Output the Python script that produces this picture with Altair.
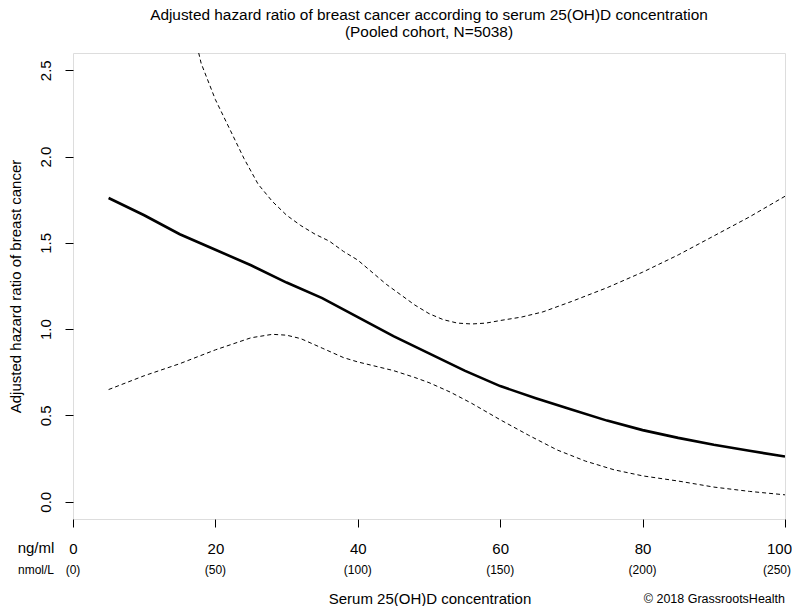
import altair as alt
import pandas as pd

# ---- data ----
est_x = [5, 10, 15, 20, 25, 30, 35, 40, 45, 50, 55, 60, 65, 70, 75, 80, 85, 90, 95, 100]
est_y = [1.76, 1.66, 1.55, 1.46, 1.37, 1.27, 1.18, 1.07, 0.96, 0.86, 0.76, 0.67, 0.60, 0.535,
         0.47, 0.415, 0.37, 0.33, 0.295, 0.262]

upper_x = [17.2, 18, 20, 22, 24, 26, 28, 30, 32, 34, 36, 38, 40, 42, 44, 46, 48, 50, 52, 54,
           56, 58, 60, 63, 66, 70, 75, 80, 85, 90, 95, 100]
upper_y = [2.68, 2.54, 2.33, 2.16, 1.99, 1.84, 1.74, 1.66, 1.60, 1.55, 1.51, 1.45, 1.40, 1.33,
           1.26, 1.20, 1.14, 1.09, 1.055, 1.035, 1.03, 1.035, 1.05, 1.07, 1.10, 1.16, 1.24,
           1.33, 1.43, 1.54, 1.65, 1.77]

lower_x = [5, 10, 15, 20, 25, 28, 30, 32, 35, 38, 40, 45, 48, 50, 53, 56, 60, 64, 68, 72, 76,
           80, 85, 90, 95, 100]
lower_y = [0.65, 0.73, 0.80, 0.88, 0.95, 0.97, 0.965, 0.945, 0.89, 0.835, 0.81, 0.76, 0.72,
           0.69, 0.635, 0.57, 0.475, 0.385, 0.30, 0.235, 0.185, 0.15, 0.12, 0.085, 0.06, 0.04]

ng_ticks = [0, 20, 40, 60, 80, 100]
nmol_labels = ["(0)", "(50)", "(100)", "(150)", "(200)", "(250)"]
y_ticks = [0.0, 0.5, 1.0, 1.5, 2.0, 2.5]

FONT = "Liberation Sans, Arial, sans-serif"

est_df = pd.DataFrame({"x": est_x, "y": est_y})
ci_df = pd.concat([
    pd.DataFrame({"x": upper_x, "y": upper_y, "band": "upper"}),
    pd.DataFrame({"x": lower_x, "y": lower_y, "band": "lower"}),
])
nmol_df = pd.DataFrame({"x": ng_ticks, "label": nmol_labels})

xscale = alt.Scale(domain=[0, 100], nice=False, zero=False)
yscale = alt.Scale(domain=[-0.1, 2.6], nice=False, zero=False)

x_enc = alt.X("x:Q", scale=xscale,
              axis=alt.Axis(values=ng_ticks, title=None, grid=False, domain=False,
                            tickSize=8, tickColor="black", labelColor="black",
                            labelFontSize=15, labelFont=FONT, labelPadding=14,
                            labelFlush=False, labelOverlap=False,
                            labelOffset={"condition": {"test": "datum.value === 100",
                                                       "value": -6},
                                         "value": 0}))
y_enc = alt.Y("y:Q", scale=yscale,
              axis=alt.Axis(values=y_ticks, format=".1f", grid=False, domain=False,
                            tickSize=8, tickColor="black", labelColor="black",
                            labelFontSize=15, labelFont=FONT, labelAngle=-90,
                            labelAlign="center", labelBaseline="bottom", labelPadding=12,
                            labelFlush=False, labelOverlap=False,
                            title="Adjusted hazard ratio of breast cancer",
                            titleFont=FONT,
                            titleFontSize=15, titleFontWeight="normal", titleColor="black",
                            titleX=-58, titleY=233, titleAngle=-90,
                            titleAlign="center", titleBaseline="middle"))

est = alt.Chart(est_df).mark_line(color="black", strokeWidth=2.6, clip=True).encode(
    x=x_enc, y=y_enc)

ci = alt.Chart(ci_df).mark_line(color="black", strokeWidth=1, strokeDash=[4, 3],
                                clip=True).encode(
    x=alt.X("x:Q", scale=xscale), y=alt.Y("y:Q", scale=yscale), detail="band:N")

nmol = alt.Chart(nmol_df).transform_filter("datum.x < 100").mark_text(
    fontSize=12, font=FONT, color="black", baseline="middle").encode(
    x=alt.X("x:Q", scale=xscale), y=alt.value(517), text="label:N")
nmol_last = alt.Chart(nmol_df).transform_filter("datum.x >= 100").mark_text(
    fontSize=12, font=FONT, color="black", baseline="middle", align="right", dx=6).encode(
    x=alt.X("x:Q", scale=xscale), y=alt.value(517), text="label:N")

unit1 = alt.Chart(pd.DataFrame({"t": ["ng/ml"]})).mark_text(
    fontSize=15, font=FONT, color="black", baseline="middle").encode(
    x=alt.value(-37), y=alt.value(495), text="t:N")
unit2 = alt.Chart(pd.DataFrame({"t": ["nmol/L"]})).mark_text(
    fontSize=12, font=FONT, color="black", baseline="middle").encode(
    x=alt.value(-37), y=alt.value(517), text="t:N")

xtitle = alt.Chart(pd.DataFrame({"t": ["Serum 25(OH)D concentration"]})).mark_text(
    fontSize=15, font=FONT, color="black", baseline="middle").encode(
    x=alt.value(357), y=alt.value(546), text="t:N")
credit = alt.Chart(pd.DataFrame({"t": ["\u00a9 2018 GrassrootsHealth"]})).mark_text(
    fontSize=12.5, font=FONT, color="black", baseline="middle", align="right").encode(
    x=alt.value(712), y=alt.value(546), text="t:N")

chart = alt.layer(est, ci, nmol, nmol_last, unit1, unit2, xtitle, credit).properties(
    width=712, height=466,
    autosize=alt.AutoSizeParams(type="none"),
    padding={"left": 65, "top": 45, "right": 7, "bottom": 87},
    title=alt.TitleParams(
        ["Adjusted hazard ratio of breast cancer according to serum 25(OH)D concentration",
         "(Pooled cohort, N=5038)"],
        fontSize=15.4, fontWeight="normal", font=FONT, color="black",
        anchor="middle", offset=13, lineHeight=17),
).configure_view(stroke="black", strokeWidth=1.2).configure(background="white")

chart.save("out.html", embed_options={"renderer": "svg", "actions": False})
